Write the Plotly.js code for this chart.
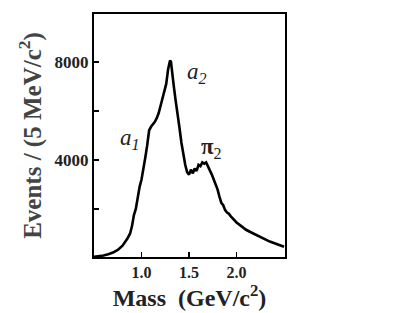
<!DOCTYPE html>
<html>
<head>
<meta charset="utf-8">
<script src="https://cdn.plot.ly/plotly-3.0.1.min.js"></script>
<style>html,body{margin:0;padding:0;background:#fff;}#chart{width:415px;height:313px;}</style>
</head>
<body>
<div id="chart"></div>
<script>
const mass = [0.50,0.55,0.60,0.65,0.70,0.75,0.80,0.85,0.88,0.90,0.92,0.94,0.96,0.98,1.00,1.02,1.04,1.06,1.08,1.10,1.12,1.14,1.16,1.18,1.20,1.22,1.24,1.26,1.28,1.30,1.31,1.32,1.34,1.36,1.38,1.40,1.42,1.44,1.46,1.48,1.50,1.52,1.54,1.56,1.58,1.60,1.62,1.64,1.66,1.68,1.70,1.72,1.74,1.76,1.78,1.80,1.82,1.84,1.86,1.88,1.90,1.92,1.94,1.96,1.98,2.00,2.05,2.10,2.15,2.20,2.25,2.30,2.35,2.40,2.45,2.50];
const events = [50,60,100,150,220,330,500,780,1000,1300,1750,2000,2500,2900,3200,3600,4100,4600,5200,5350,5450,5550,5700,5900,6200,6500,6700,7100,7700,8050,8000,7600,7000,6400,5900,5300,4700,4200,3800,3500,3400,3600,3450,3650,3550,3800,3750,3900,3850,3900,3750,3550,3400,3200,3000,2800,2500,2250,2150,1950,1850,1800,1700,1600,1520,1450,1300,1150,1050,950,850,750,670,600,520,460];
const xTickVals = [1.0,1.5,2.0];
const xTickText = ["1.0","1.5","2.0"];
const yTickVals = [2000,4000,6000,8000];
const yTickText = ["","4000","","8000"];
const labels = [
  {text:"<i>a</i><sub><i>1</i></sub>", x:0.88, y:4850},
  {text:"<i>a</i><sub><i>2</i></sub>", x:1.58, y:7550},
  {text:"<b>π</b><sub>2</sub>", x:1.74, y:4500}
];

const serif = "Liberation Serif, Times New Roman, serif";
const trace = {
  x: mass, y: events, type: "scatter", mode: "lines",
  line: {color: "#000", width: 2.6}, hoverinfo: "skip"
};
const layout = {
  width: 415, height: 313,
  margin: {l: 94, r: 130, t: 14, b: 56},
  paper_bgcolor: "#fff", plot_bgcolor: "#fff",
  showlegend: false,
  xaxis: {
    range: [0.5, 2.51], showgrid: false, zeroline: false,
    showline: true, mirror: true, linecolor: "#000", linewidth: 2,
    ticks: "inside", ticklen: 5, tickwidth: 1.5, tickcolor: "#000",
    tickvals: xTickVals, ticktext: xTickText,
    tickfont: {family: serif, size: 16, color: "#222", weight: "bold"},
    title: {text: "Mass  (GeV/c<sup>2</sup>)", standoff: 5,
      font: {family: serif, size: 24, color: "#222", weight: "bold"}}
  },
  yaxis: {
    range: [40, 9950], showgrid: false, zeroline: false,
    showline: true, mirror: true, linecolor: "#000", linewidth: 2,
    ticks: "inside", ticklen: 5, tickwidth: 1.5, tickcolor: "#000",
    tickvals: yTickVals, ticktext: yTickText,
    tickfont: {family: serif, size: 17, color: "#222", weight: "bold"},
    title: {text: "Events / (5 MeV/c<sup>2</sup>)", standoff: 6,
      font: {family: serif, size: 25, color: "#444", weight: "bold"}}
  },
  annotations: labels.map(l => ({
    text: l.text, x: l.x, y: l.y, xref: "x", yref: "y", showarrow: false,
    font: {family: serif, size: 23, color: "#222"}
  }))
};
Plotly.newPlot("chart", [trace], layout, {staticPlot: true, displayModeBar: false});
</script>
</body>
</html>
